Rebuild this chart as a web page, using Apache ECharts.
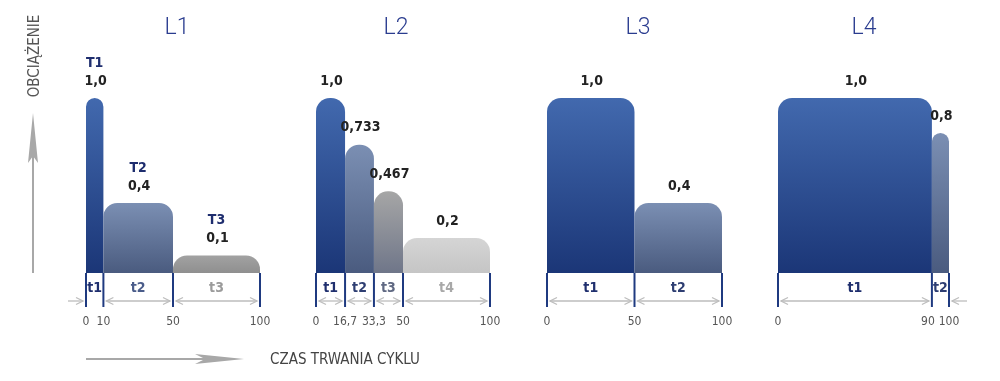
<!DOCTYPE html>
<html>
<head>
<meta charset="utf-8">
<script src="https://cdn.jsdelivr.net/npm/echarts@6/dist/echarts.min.js"></script>
<style>
html,body{margin:0;padding:0;background:#fff;}
#c{width:1000px;height:381px;}
</style>
</head>
<body>
<div id="c"></div>
<script>
// ---------- data ----------
const panelNames = ['L1', 'L2', 'L3', 'L4'];

const L1_bounds = [0, 10, 50, 100];
const L1_loads = [1.0, 0.4, 0.1];
const L1_loadLabels = ['1,0', '0,4', '0,1'];
const L1_loadNames = ['T1', 'T2', 'T3'];
const L1_phases = ['t1', 't2', 't3'];
const L1_ticks = ['0', '10', '50', '100'];

const L2_bounds = [0, 16.7, 33.3, 50, 100];
const L2_loads = [1.0, 0.733, 0.467, 0.2];
const L2_loadLabels = ['1,0', '0,733', '0,467', '0,2'];
const L2_phases = ['t1', 't2', 't3', 't4'];
const L2_ticks = ['0', '16,7', '33,3', '50', '100'];

const L3_bounds = [0, 50, 100];
const L3_loads = [1.0, 0.4];
const L3_loadLabels = ['1,0', '0,4'];
const L3_phases = ['t1', 't2'];
const L3_ticks = ['0', '50', '100'];

const L4_bounds = [0, 90, 100];
const L4_loads = [1.0, 0.8];
const L4_loadLabels = ['1,0', '0,8'];
const L4_phases = ['t1', 't2'];
const L4_ticks = ['0', '90', '100'];

const yAxisName = 'OBCIĄŻENIE';
const xAxisName = 'CZAS TRWANIA CYKLU';

// ---------- styles ----------
const FONT = "'Liberation Sans Narrow', 'DejaVu Sans Condensed', Roboto, sans-serif";
const TFONT = 'Roboto, sans-serif';
const FILLS = {
  blue: ['#4269ae', '#1b3677'],
  slate: ['#7b8fb3', '#4a5b7f'],
  grayFlat: ['#a2a2a2', '#8f8f8f'],
  gray: ['#a6a6a6', '#6f7689'],
  light: ['#d5d5d5', '#c5c5c5']
};
const panels = [
  { bounds: L1_bounds, loads: L1_loads, labels: L1_loadLabels, names: L1_loadNames, phases: L1_phases, ticks: L1_ticks,
    fills: ['blue', 'slate', 'grayFlat'], phaseColors: ['#1f2f6e', '#4a5c8a', '#9b9b9b'],
    grid: { left: 86, width: 174 }, titleX: 172, outerLeft: true, tickPad: {} },
  { bounds: L2_bounds, loads: L2_loads, labels: L2_loadLabels, phases: L2_phases, ticks: L2_ticks,
    fills: ['blue', 'slate', 'gray', 'light'], phaseColors: ['#1f2f6e', '#2e3e72', '#5f6882', '#a8a8a8'],
    grid: { left: 316, width: 174 }, titleX: 391, tickPad: {} },
  { bounds: L3_bounds, loads: L3_loads, labels: L3_loadLabels, phases: L3_phases, ticks: L3_ticks,
    fills: ['blue', 'slate'], phaseColors: ['#1f2f6e', '#2e3e72'],
    grid: { left: 547, width: 175 }, titleX: 633, tickPad: {} },
  { bounds: L4_bounds, loads: L4_loads, labels: L4_loadLabels, phases: L4_phases, ticks: L4_ticks,
    fills: ['blue', 'slate'], phaseColors: ['#1f2f6e', '#2e3e72'],
    grid: { left: 778, width: 171 }, titleX: 859, outerRight: true, tickPad: { 1: 8 } }
];

const chart = echarts.init(document.getElementById('c'), null, { renderer: 'canvas' });

const grids = [], xAxes = [], yAxes = [], series = [], titles = [];
const ARROW = '#bdbdbd';
const LINE = '#1f3a80';
const TICK_STYLE = { color: '#555', fontSize: 12, fontFamily: FONT };

function chevron(x, y, dir) {
  return {
    type: 'polyline',
    shape: { points: [[x - dir * 7, y - 3.5], [x, y], [x - dir * 7, y + 3.5]] },
    style: { stroke: ARROW, lineWidth: 1.3, fill: null }
  };
}

panels.forEach((p, k) => {
  grids.push({ left: p.grid.left, width: p.grid.width, top: 98, height: 175 });
  xAxes.push({
    gridIndex: k, type: 'value', min: 0, max: 100,
    axisLine: { show: false }, axisTick: { show: false }, splitLine: { show: false },
    axisLabel: Object.assign({
      customValues: p.bounds,
      margin: 43,
      hideOverlap: false,
      formatter: function (v) {
        let idx = p.bounds.findIndex(b => Math.abs(b - v) < 1e-6);
        if (idx < 0) return '';
        return p.tickPad[idx] ? '{s|' + p.ticks[idx] + '}' : p.ticks[idx];
      },
      rich: { s: Object.assign({ padding: [0, 8, 0, 0] }, TICK_STYLE) }
    }, TICK_STYLE)
  });
  yAxes.push({ gridIndex: k, type: 'value', min: 0, max: 1, show: false });
  titles.push({
    text: panelNames[k], left: p.titleX, top: 12, textAlign: 'center',
    textStyle: { color: '#2a3c8f', fontSize: 23, fontWeight: 300, fontFamily: TFONT }
  });

  const data = p.loads.map((v, i) => [p.bounds[i], p.bounds[i + 1], v, i]);
  series.push({
    type: 'custom', xAxisIndex: k, yAxisIndex: k, clip: false,
    encode: { x: [0, 1], y: 2 },
    data: data,
    renderItem: function (params, api) {
      const s = api.value(0), e = api.value(1), v = api.value(2), i = api.value(3);
      const p0 = api.coord([s, 0]);
      const p1 = api.coord([e, v]);
      const w = p1[0] - p0[0];
      const h = p0[1] - p1[1];
      const r = Math.min(14, w / 2);
      const cx = (p0[0] + p1[0]) / 2;
      const base = p0[1];
      const f = FILLS[p.fills[i]];
      const kids = [];
      kids.push({
        type: 'rect',
        shape: { x: p0[0], y: p1[1], width: w, height: h, r: [r, r, 0, 0] },
        style: { fill: new echarts.graphic.LinearGradient(0, 0, 0, 1, [
          { offset: 0, color: f[0] }, { offset: 1, color: f[1] }]) }
      });
      kids.push({
        type: 'text',
        style: { x: cx + 1, y: p1[1] - 17, text: p.labels[i], align: 'center', verticalAlign: 'middle',
          fill: '#222', font: 'bold 14px ' + FONT }
      });
      if (p.names) {
        kids.push({
          type: 'text',
          style: { x: cx, y: p1[1] - 35, text: p.names[i], align: 'center', verticalAlign: 'middle',
            fill: '#1e2d6e', font: 'bold 14px ' + FONT }
        });
      }
      kids.push({
        type: 'text',
        style: { x: cx, y: base + 15, text: p.phases[i], align: 'center', verticalAlign: 'middle',
          fill: p.phaseColors[i], font: 'bold 14px ' + FONT }
      });
      kids.push({ type: 'line', shape: { x1: p0[0], y1: base, x2: p0[0], y2: base + 34 },
        style: { stroke: LINE, lineWidth: 2 } });
      if (i === p.loads.length - 1) {
        kids.push({ type: 'line', shape: { x1: p1[0], y1: base, x2: p1[0], y2: base + 34 },
          style: { stroke: LINE, lineWidth: 2 } });
      }
      const ay = base + 28;
      if (w > 25) {
        kids.push({ type: 'line', shape: { x1: p0[0] + 3, y1: ay, x2: p1[0] - 3, y2: ay },
          style: { stroke: ARROW, lineWidth: 1.3 } });
        kids.push(chevron(p0[0] + 3, ay, -1));
        kids.push(chevron(p1[0] - 3, ay, 1));
      }
      if (p.outerLeft && i === 0) {
        kids.push({ type: 'line', shape: { x1: p0[0] - 18, y1: ay, x2: p0[0] - 3, y2: ay },
          style: { stroke: ARROW, lineWidth: 1.3 } });
        kids.push(chevron(p0[0] - 3, ay, 1));
      }
      if (p.outerRight && i === p.loads.length - 1) {
        kids.push({ type: 'line', shape: { x1: p1[0] + 3, y1: ay, x2: p1[0] + 18, y2: ay },
          style: { stroke: ARROW, lineWidth: 1.3 } });
        kids.push(chevron(p1[0] + 3, ay, -1));
      }
      return { type: 'group', children: kids };
    }
  });
});

const AX = '#a8a8a8';
const graphic = [
  { type: 'line', shape: { x1: 33, y1: 273, x2: 33, y2: 150 }, style: { stroke: AX, lineWidth: 2 } },
  { type: 'polygon', shape: { points: [[33, 113], [38, 163], [33, 156], [28, 163]] }, style: { fill: AX } },
  { type: 'text', x: 35, y: 56, rotation: Math.PI / 2,
    style: { text: yAxisName, align: 'center', verticalAlign: 'middle', fill: '#555', font: '15px ' + FONT } },
  { type: 'line', shape: { x1: 86, y1: 359, x2: 210, y2: 359 }, style: { stroke: AX, lineWidth: 2 } },
  { type: 'polygon', shape: { points: [[244, 359], [195, 354], [205, 359], [195, 364]] }, style: { fill: AX } },
  { type: 'text', x: 270, y: 360,
    style: { text: xAxisName, align: 'left', verticalAlign: 'middle', fill: '#444', font: '15px ' + FONT } }
];

chart.setOption({
  animation: false,
  title: titles,
  grid: grids,
  xAxis: xAxes,
  yAxis: yAxes,
  series: series,
  graphic: graphic
});
</script>
</body>
</html>
